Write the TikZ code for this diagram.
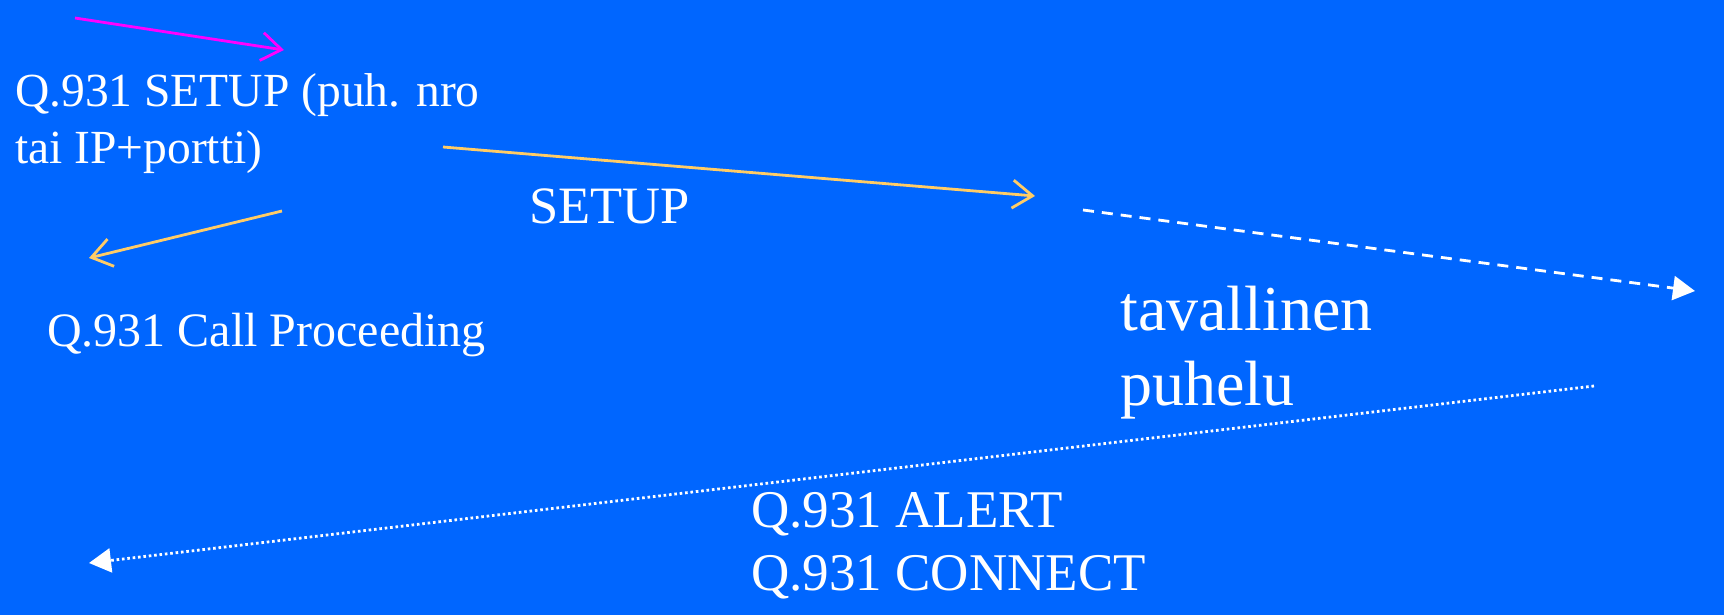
\documentclass[tikz,border=0pt]{standalone}
\usepackage{fontspec}
\setmainfont{Liberation Serif}
\usetikzlibrary{arrows.meta}
\definecolor{bgblue}{HTML}{0066FF}
\definecolor{magentaline}{HTML}{FF00FF}
\definecolor{yellowline}{HTML}{FFCC66}
\tikzset{
  lbl/.style={anchor=base west, inner sep=0pt, text=white},
  openarrow/.style={line width=2.8pt, -{Straight Barb[length=20pt,width=28pt,line width=2.8pt]}},
  filledarrow/.style={white, line width=2.8pt, -{Triangle[length=22pt,width=24pt]}},
  dashedline/.style={dash pattern=on 11pt off 8pt},
  dottedline/.style={dash pattern=on 2.6pt off 2.8pt},
}
\begin{document}
\begin{tikzpicture}[x=1pt,y=-1pt]
\fill[bgblue] (0,0) rectangle (1724,615);
\useasboundingbox (0,0) rectangle (1724,615);

% texts
\node[lbl, font=\fontsize{47.5}{58}\selectfont] (setupA) at (15,107) {Q.931 SETUP (puh. nro};
\node[lbl, font=\fontsize{47.5}{58}\selectfont] (setupB) at (15,164) {tai IP+portti)};
\node[lbl, font=\fontsize{52.5}{62}\selectfont] (setupC) at (529,223) {SETUP};
\node[lbl, font=\fontsize{48}{58}\selectfont] (proc) at (47,346) {Q.931 Call Proceeding};
\node[lbl, font=\fontsize{64}{75}\selectfont] (tavA) at (1120,330) {tavallinen};
\node[lbl, font=\fontsize{64}{75}\selectfont] (tavB) at (1120,405) {puhelu};
\node[lbl, font=\fontsize{53}{63}\selectfont] (alert) at (751,527) {Q.931 ALERT};
\node[lbl, font=\fontsize{53}{63}\selectfont] (conn) at (751,590) {Q.931 CONNECT};

% arrow end points
\coordinate (m1) at (75,18);
\coordinate (m2) at (284,50);
\coordinate (s1) at (443,147);
\coordinate (s2) at (1035,196);
\coordinate (c1) at (282,211);
\coordinate (c2) at (89,258);
\coordinate (d1) at (1083,210);
\coordinate (d2) at (1695,291);
\coordinate (t1) at (1594,386);
\coordinate (t2) at (89,563);

\draw[openarrow, magentaline] (m1) -- (m2);
\draw[openarrow, yellowline] (s1) -- (s2);
\draw[openarrow, yellowline] (c1) -- (c2);
\draw[filledarrow, dashedline] (d1) -- (d2);
\draw[filledarrow, dottedline] (t1) -- (t2);
\end{tikzpicture}
\end{document}
